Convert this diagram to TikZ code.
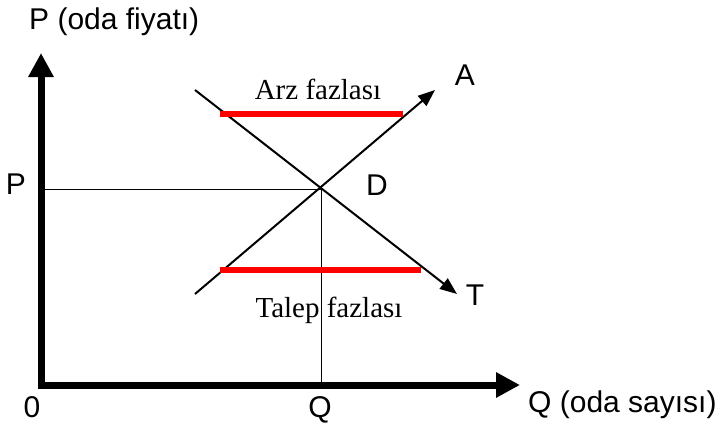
\documentclass[tikz,border=0pt]{standalone}
\usepackage{fontspec}
\setmainfont{Liberation Sans}
\newfontfamily\timesfont{Liberation Serif}
\usetikzlibrary{arrows.meta,positioning}
\definecolor{SurplusRed}{RGB}{255,0,0}

\begin{document}
\begin{tikzpicture}[x=1pt,y=-1pt,
  lbl/.style={font=\fontsize{30}{32}\selectfont,inner sep=0pt,anchor=base},
  gaplbl/.style={font=\timesfont\fontsize{29}{31}\selectfont,inner sep=0pt,anchor=base},
  curve/.style={line width=2pt,-{Triangle[length=17pt,width=13pt]}},
  guide/.style={line width=1pt},
  excess/.style={SurplusRed,line width=6.5pt}]
\useasboundingbox (0,0) rectangle (716,424);
% axes
\coordinate (O) at (41,385);
\coordinate (Ytop) at (41,53);
\coordinate (Xend) at (520,385);
\draw[line width=7pt,{Triangle[length=24pt,width=24pt]}-{Triangle[length=24pt,width=24pt]}]
  (Ytop) -- (O) -- (Xend);
% equilibrium
\coordinate (D) at (321,189);
\draw[guide] (D -| O) -- (D);
\draw[guide] (D) -- (D |- O);
% supply and demand
\coordinate (Astart) at (195,294);
\coordinate (Aend) at (435,90);
\coordinate (Tstart) at (195,90);
\coordinate (Tend) at (457,294);
\draw[curve] (Astart) -- (Aend);
\draw[curve] (Tstart) -- (Tend);
% surplus and shortage
\coordinate (arzL) at (220,114);
\coordinate (arzR) at (403,114);
\coordinate (talL) at (220,270);
\coordinate (talR) at (421,270);
\draw[excess] (arzL) -- (arzR);
\draw[excess] (talL) -- (talR);
% labels
\node[lbl,anchor=base west] (ylab) at (29,29) {P (oda fiyatı)};
\node[lbl,anchor=base west] (xlab) at (528,412) {Q (oda sayısı)};
\node[lbl] (origin) at (32,417) {0};
\node[lbl] (qstar) at (320,417) {Q};
\node[lbl] (pstar) at (16,194) {P};
\node[lbl] (dlab) at (377,195) {D};
\node[lbl] (alab) at (465,85) {A};
\node[lbl] (tlab) at (475,305) {T};
\node[gaplbl] (arz) at (318,99) {Arz fazlası};
\node[gaplbl] (talep) at (329,317) {Talep fazlası};
\end{tikzpicture}
\end{document}
